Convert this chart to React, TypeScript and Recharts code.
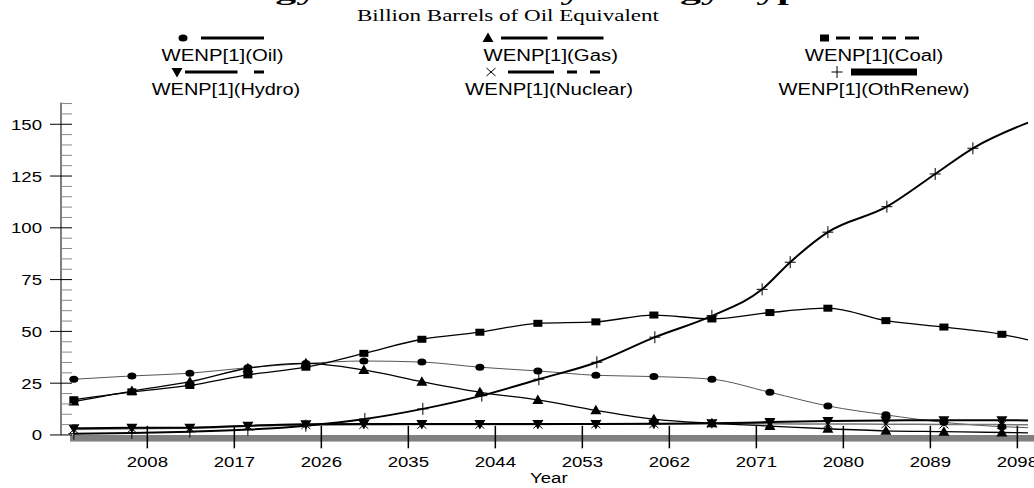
import React from 'react';
import { LineChart, Line, XAxis, YAxis, ReferenceArea, ReferenceLine } from 'recharts';

// ---- data ----
const years = [2000.4, 2006.4, 2012.4, 2018.4, 2024.4, 2030.4, 2036.4, 2042.4, 2048.4, 2054.4, 2060.4, 2066.4, 2072.4, 2078.4, 2084.4, 2090.4, 2096.4, 2099.1];
const oil = [26.9, 28.5, 29.8, 32.5, 34.5, 35.7, 35.2, 32.7, 30.9, 28.8, 28.2, 26.9, 20.6, 14.0, 9.7, 6.1, 4.0, 3.5];
const gas = [16.1, 21.2, 25.7, 32.2, 34.6, 31.4, 25.7, 20.6, 16.9, 11.9, 7.6, 5.6, 4.3, 3.0, 2.0, 1.6, 1.2, 1.0];
const coal = [17.0, 20.8, 23.9, 29.0, 32.7, 39.4, 46.2, 49.6, 53.9, 54.6, 57.9, 56.0, 59.1, 61.2, 55.2, 52.1, 48.6, 45.9];
const hydro = [3.2, 3.5, 3.5, 4.5, 5.2, 5.3, 5.3, 5.3, 5.3, 5.3, 5.4, 5.6, 6.2, 6.7, 7.0, 7.1, 7.1, 7.0];
const nuclear = [2.6, 3.0, 3.2, 4.2, 4.8, 4.9, 5.0, 5.0, 5.1, 5.2, 5.3, 5.5, 5.4, 5.3, 5.2, 5.1, 5.0, 4.9];
const renewYears = [2000.4, 2006.4, 2012.4, 2018.4, 2024.4, 2030.5, 2036.5, 2042.6, 2048.5, 2054.5, 2060.5, 2066.4, 2071.6, 2074.5, 2078.4, 2084.5, 2089.5, 2093.4, 2099.1];
const othRenew = [0.6, 1.0, 1.6, 2.6, 4.5, 7.7, 12.6, 19.0, 26.9, 35.1, 47.2, 57.5, 70.3, 83.4, 97.9, 110.2, 126.0, 138.4, 150.8];

const xTicks = [2008, 2017, 2026, 2035, 2044, 2053, 2062, 2071, 2080, 2089, 2098];
const yMajor = [0, 25, 50, 75, 100, 125, 150];
const yMinor = [5, 10, 15, 20, 30, 35, 40, 45, 55, 60, 65, 70, 80, 85, 90, 95, 105, 110, 115, 120, 130, 135, 140, 145, 155, 160];

const X_MIN = 1999.07;
const X_MAX = 2100;
const Y_MIN = -3.3;
const Y_MAX = 160.5;

const title = 'Energy Production by Energy Type';
const subtitle = 'Billion Barrels of Oil Equivalent';
const xLabel = 'Year';

const build = (xs: number[], ys: number[]) => xs.map((x, i) => ({ year: x, v: ys[i] }));
const oilData = build(years, oil);
const gasData = build(years, gas);
const coalData = build(years, coal);
const hydroData = build(years, hydro);
const nuclearData = build(years, nuclear);
const renewData = build(renewYears, othRenew);

const SANS = '"Liberation Sans", Arial, sans-serif';
const SERIF = '"Liberation Serif", "Times New Roman", serif';
const AXIS_FS = 15.5;
const AXIS_SX = 1.2;

type Kind = 'circle' | 'up' | 'square' | 'down' | 'x' | 'plus';

function drawMarker(kind: Kind, cx: number, cy: number, key?: string) {
  switch (kind) {
    case 'circle':
      return <ellipse key={key} cx={cx} cy={cy} rx={4.5} ry={3.5} fill="#000" />;
    case 'up':
      return <polygon key={key} points={`${cx},${cy - 5.5} ${cx + 5.5},${cy + 4} ${cx - 5.5},${cy + 4}`} fill="#000" />;
    case 'square':
      return <rect key={key} x={cx - 4.5} y={cy - 3.5} width={9} height={7} fill="#000" />;
    case 'down':
      return <polygon key={key} points={`${cx - 5.5},${cy - 4} ${cx + 5.5},${cy - 4} ${cx},${cy + 5.5}`} fill="#000" />;
    case 'x':
      return <path key={key} d={`M${cx - 4.5},${cy - 4}L${cx + 4.5},${cy + 4}M${cx + 4.5},${cy - 4}L${cx - 4.5},${cy + 4}`} stroke="#000" strokeWidth={1} fill="none" />;
    case 'plus':
    default:
      return <path key={key} d={`M${cx - 5.5},${cy}L${cx + 5.5},${cy}M${cx},${cy - 6}L${cx},${cy + 6}`} stroke="#000" strokeWidth={1} fill="none" />;
  }
}

const makeDot = (kind: Kind, count: number) => (props: any) => {
  const { cx, cy, index } = props;
  if (index >= count - 1 || cx == null || cy == null) return <g key={`e-${kind}-${index}`} />;
  return drawMarker(kind, cx, cy, `m-${kind}-${index}`);
};

const STxt = (p: { x: number; y: number; anchor: 'start' | 'middle' | 'end'; sx?: number; size: number; family: string; children: any }) => (
  <text transform={`translate(${p.x},${p.y}) scale(${p.sx ?? 1},1)`} textAnchor={p.anchor} fontFamily={p.family} fontSize={p.size} fill="#000">
    {p.children}
  </text>
);

const YTick = (props: any) => {
  const { x, y, payload } = props;
  const v = payload.value;
  const major = v % 25 === 0;
  if (major) {
    return (
      <g>
        <line x1={x - 11} x2={x + 11} y1={y} y2={y} stroke="#000" strokeWidth={1} />
        <STxt x={x - 19} y={y + 5.5} anchor="end" sx={AXIS_SX} size={AXIS_FS} family={SANS}>{v}</STxt>
      </g>
    );
  }
  return <line x1={x} x2={x + 11} y1={y} y2={y} stroke="#888" strokeWidth={1} />;
};

const XTick = (props: any) => {
  const { x, y, payload } = props;
  return (
    <g>
      <line x1={x} x2={x} y1={y - 16} y2={y + 6.5} stroke="#000" strokeWidth={1.5} />
      <STxt x={x} y={y + 25} anchor="middle" sx={AXIS_SX} size={AXIS_FS} family={SANS}>{payload.value}</STxt>
    </g>
  );
};

const XLabel = (props: any) => {
  const vb = props.viewBox || {};
  const cx = (vb.x ?? 61) + (vb.width ?? 975) / 2;
  return <STxt x={cx} y={483} anchor="middle" sx={AXIS_SX} size={AXIS_FS} family={SANS}>{xLabel}</STxt>;
};

const LegText = ({ x, y, w, children }: { x: number; y: number; w: number; children: any }) => (
  <text x={x} y={y} dy="0.35em" textAnchor="middle" fontFamily={SANS} fontSize={16} textLength={w} lengthAdjust="spacingAndGlyphs" fill="#000">
    {children}
  </text>
);

function LegendLayer() {
  const lw = 3;
  const r1 = 38;
  const t1 = 55.5;
  const r2 = 72;
  const t2 = 89;
  return (
    <svg width={1034} height={100} style={{ position: 'absolute', left: 0, top: 0, pointerEvents: 'none' }}>
      <text x={503} y={0} textAnchor="middle" fontFamily={SERIF} fontWeight="bold" fontSize={24} textLength={632} lengthAdjust="spacingAndGlyphs" fill="#000">{title}</text>
      <text x={508} y={15} dy="0.35em" textAnchor="middle" fontFamily={SERIF} fontSize={17} textLength={302} lengthAdjust="spacingAndGlyphs" fill="#000">{subtitle}</text>

      {/* row 1 */}
      {drawMarker('circle', 183, r1)}
      <line x1={201} x2={264} y1={r1} y2={r1} stroke="#000" strokeWidth={lw} />
      <LegText x={222.6} y={t1} w={122}>WENP[1](Oil)</LegText>

      {drawMarker('up', 488, r1)}
      <line x1={501} x2={604} y1={r1} y2={r1} stroke="#000" strokeWidth={lw} strokeDasharray="46.5 9.5" />
      <LegText x={550.7} y={t1} w={134.5}>WENP[1](Gas)</LegText>

      {drawMarker('square', 824.5, r1)}
      <line x1={836} x2={920} y1={r1} y2={r1} stroke="#000" strokeWidth={lw} strokeDasharray="14 9" />
      <LegText x={874} y={t1} w={138.5}>WENP[1](Coal)</LegText>

      {/* row 2 */}
      {drawMarker('down', 177, r2)}
      <line x1={185} x2={264} y1={r2} y2={r2} stroke="#000" strokeWidth={lw} strokeDasharray="52.5 16.5 10 40" />
      <LegText x={226} y={t2} w={148.4}>WENP[1](Hydro)</LegText>

      {drawMarker('x', 491, r2)}
      <line x1={508} x2={600} y1={r2} y2={r2} stroke="#000" strokeWidth={lw} strokeDasharray="46 13 10 13 10 40" />
      <LegText x={549} y={t2} w={168}>WENP[1](Nuclear)</LegText>

      {drawMarker('plus', 837, r2)}
      <rect x={851} y={r2 - 3.5} width={66} height={7} fill="#000" />
      <LegText x={874} y={t2} w={191}>WENP[1](OthRenew)</LegText>
    </svg>
  );
}

export default function App() {
  const allY = [...yMajor, ...yMinor].sort((a, b) => a - b);
  return (
    <div style={{ position: 'fixed', left: 0, top: 0, width: 1034, height: 488, overflow: 'hidden', background: '#fff' }}>
      <LineChart width={1040} height={488} margin={{ top: 102.5, right: 3.3, bottom: 0, left: 0 }}>
        <XAxis
          type="number"
          dataKey="year"
          domain={[X_MIN, X_MAX]}
          ticks={xTicks}
          tick={<XTick />}
          tickSize={0}
          tickMargin={0}
          axisLine={false}
          allowDataOverflow
          height={46.2}
          interval={0}
          label={<XLabel />}
        />
        <XAxis xAxisId="top" orientation="top" type="number" domain={[X_MIN, X_MAX]} height={0} tick={false} tickLine={false} axisLine={{ stroke: '#666', strokeWidth: 1.5 }} />
        <YAxis
          type="number"
          domain={[Y_MIN, Y_MAX]}
          ticks={allY}
          tick={<YTick />}
          tickSize={0}
          tickMargin={0}
          axisLine={false}
          allowDataOverflow
          width={61}
          interval={0}
        />
        <ReferenceArea x1={2000} x2={X_MAX} y1={Y_MIN} y2={0} fill="#808080" fillOpacity={1} stroke="none" ifOverflow="hidden" />
        <ReferenceLine segment={[{ x: X_MIN, y: 0 }, { x: X_MIN, y: Y_MAX }]} stroke="#555" strokeWidth={1.5} ifOverflow="visible" />

        <Line data={oilData} dataKey="v" type="monotone" stroke="#555" strokeWidth={1} dot={makeDot('circle', oilData.length)} isAnimationActive={false} />
        <Line data={nuclearData} dataKey="v" type="monotone" stroke="#777" strokeWidth={1.5} dot={makeDot('x', nuclearData.length)} isAnimationActive={false} />
        <Line data={hydroData} dataKey="v" type="monotone" stroke="#000" strokeWidth={2} dot={makeDot('down', hydroData.length)} isAnimationActive={false} />
        <Line data={gasData} dataKey="v" type="monotone" stroke="#000" strokeWidth={1.3} dot={makeDot('up', gasData.length)} isAnimationActive={false} />
        <Line data={coalData} dataKey="v" type="monotone" stroke="#000" strokeWidth={1.3} dot={makeDot('square', coalData.length)} isAnimationActive={false} />
        <Line data={renewData} dataKey="v" type="monotone" stroke="#000" strokeWidth={2} dot={makeDot('plus', renewData.length)} isAnimationActive={false} />
      </LineChart>
      <LegendLayer />
    </div>
  );
}
